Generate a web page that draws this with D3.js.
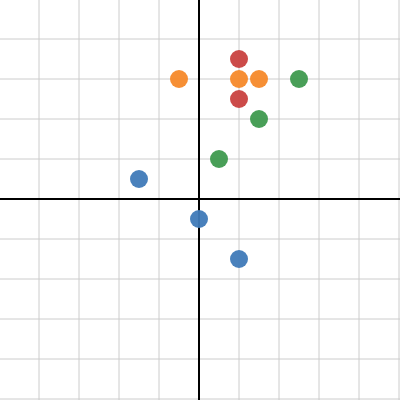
<!DOCTYPE html>
<html><head><meta charset="utf-8">
<script src="https://cdn.jsdelivr.net/npm/d3@7"></script>
<style>body{margin:0;background:#fff}</style>
</head><body>
<svg id="chart" width="400" height="400"></svg>
<script>
// --- DATA ---
const blueX = [-1.5, 0, 1];
const blueY = [0.5, -0.5, -1.5];
const greenX = [0.5, 1.5, 2.5];
const greenY = [1, 2, 3];
const orangeX = [-0.5, 1, 1.5];
const orangeY = [3, 3, 3];
const redX = [1, 1];
const redY = [3.5, 2.5];
const gridTicks = d3.range(-5, 6, 1);

const series = [
    { color: "#3f7ab8", xs: blueX, ys: blueY },
    { color: "#3f9a4f", xs: greenX, ys: greenY },
    { color: "#f5892a", xs: orangeX, ys: orangeY },
    { color: "#c9413f", xs: redX, ys: redY }
];

const svg = d3.select("#chart").append("g").attr("transform", "translate(-1,-1)");
const x = d3.scaleLinear().domain([-5, 5]).range([0, 400]);
const y = d3.scaleLinear().domain([-5, 5]).range([400, 0]);

// Grid
svg.append("g").selectAll("line").data(gridTicks).join("line")
    .attr("x1", d => x(d)).attr("x2", d => x(d))
    .attr("y1", 0).attr("y2", 402)
    .attr("stroke", "#ccc").attr("stroke-width", 1);
svg.append("g").selectAll("line").data(gridTicks).join("line")
    .attr("y1", d => y(d)).attr("y2", d => y(d))
    .attr("x1", 0).attr("x2", 402)
    .attr("stroke", "#ccc").attr("stroke-width", 1);

// Axes
svg.append("line").attr("x1", x(0)).attr("x2", x(0)).attr("y1", 0).attr("y2", 402)
    .attr("stroke", "#000").attr("stroke-width", 2);
svg.append("line").attr("y1", y(0)).attr("y2", y(0)).attr("x1", 0).attr("x2", 402)
    .attr("stroke", "#000").attr("stroke-width", 2);

// Points
series.forEach(s => {
    svg.append("g").selectAll("circle").data(s.xs.map((v, i) => [v, s.ys[i]])).join("circle")
        .attr("cx", d => x(d[0])).attr("cy", d => y(d[1]))
        .attr("r", 9).attr("fill", s.color).attr("opacity", 0.95);
});
</script>
</body></html>
